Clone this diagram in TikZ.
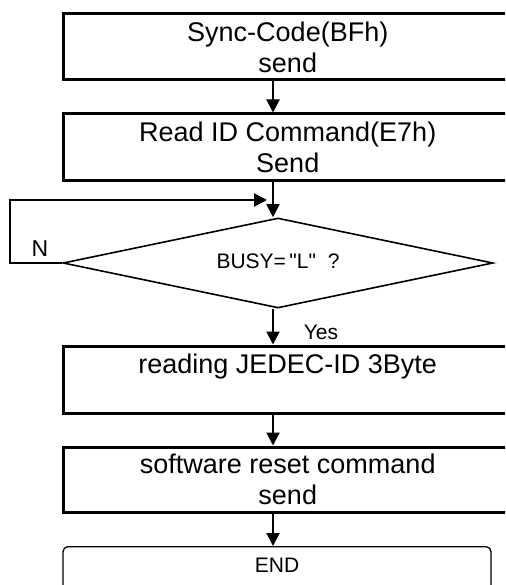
\documentclass[tikz,border=0pt]{standalone}
\usepackage{fontspec}
\setmainfont{Liberation Sans}
\newfontfamily\plainfont{Liberation Sans}
\usetikzlibrary{shapes.geometric,arrows.meta}
\begin{document}
\begin{tikzpicture}[x=1pt,y=-1pt,
  box/.style={draw,line width=3pt,minimum width=448.5pt,inner sep=0pt,align=center,font=\fontsize{27}{31}\selectfont},
  arr/.style={line width=2pt,-{Triangle[length=13pt,width=13pt]}},
  small/.style={font=\fontsize{21}{24}\selectfont}]
\useasboundingbox (0,0) rectangle (505,585);
\clip (0,0) rectangle (505,585);
\coordinate (c) at (273,0);
\node[box,minimum height=66pt] (b1) at (287.75,47) {Sync-Code(BFh)\\send};
\node[box,minimum height=67pt] (b2) at (287.75,147.5) {Read ID Command(E7h)\\Send};
\node[draw,diamond,shape aspect=4.78,line width=1.6pt,minimum width=430pt,minimum height=90pt,inner sep=0pt,font=\plainfont\fontsize{21}{24}\selectfont] (d) at (278,263) {\raisebox{4pt}{BUSY=\,"L"\ \ ?}};
\node[box,minimum height=67pt] (b3) at (287.75,379.5) {reading JEDEC-ID 3Byte\\[-8pt]\strut};
\node[box,minimum height=65pt] (b4) at (287.75,479.5) {software reset command\\send};
\node[draw,line width=1.3pt,rounded corners=5pt,anchor=north,minimum width=428pt,inner xsep=0pt,inner ysep=11pt,text depth=40pt,small] (e) at (277,546) {END};
\node[font=\fontsize{23}{26}\selectfont] (n) at (40,249) {N};
\node[small] (y) at (321,332) {Yes};
\coordinate (k) at (10,200);
\coordinate (m) at (267,200);
\draw[arr] (b1.south -| c) -- (b2.north -| c);
\draw[arr] (b2.south -| c) -- (d.north -| c);
\draw[arr] (d.south -| c) -- (b3.north -| c);
\draw[arr] (b3.south -| c) -- (b4.north -| c);
\draw[arr] (b4.south -| c) -- (e.north -| c);
\draw[arr] (d.west) -| (k) -- (m);
\end{tikzpicture}
\end{document}
